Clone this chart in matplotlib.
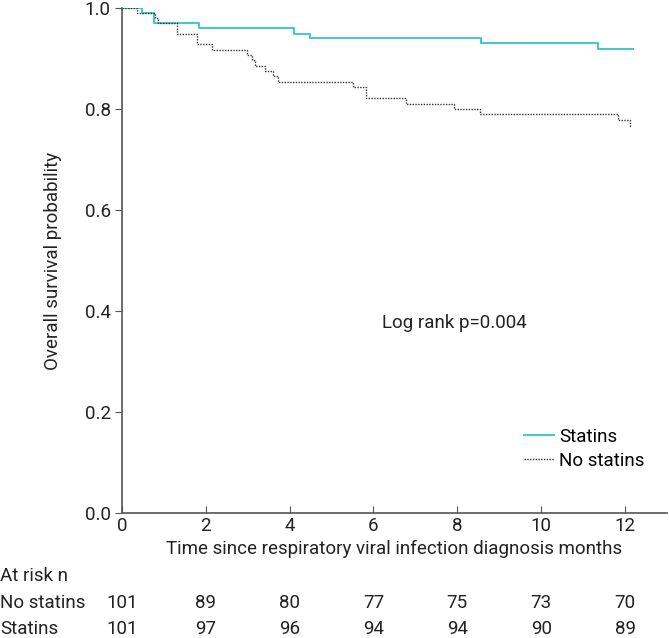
import matplotlib.pyplot as plt

# -----------------------------
# Data
# -----------------------------
statins_time = [0, 0.48, 0.78, 1.85, 4.11, 4.48, 8.57, 11.35, 12.20]
statins_surv = [1.0, 0.990, 0.970, 0.960, 0.950, 0.941, 0.931, 0.920, 0.920]

nostatins_time = [0, 0.37, 0.80, 0.87, 1.31, 1.80, 2.14, 2.98, 3.10, 3.17,
                  3.41, 3.60, 3.73, 5.52, 5.83, 6.77, 7.92, 8.53, 11.82,
                  12.12, 12.15]
nostatins_surv = [1.0, 0.990, 0.980, 0.970, 0.950, 0.929, 0.918, 0.908,
                  0.898, 0.886, 0.876, 0.865, 0.855, 0.844, 0.822, 0.810,
                  0.800, 0.790, 0.779, 0.767, 0.767]

risk_times = [0, 2, 4, 6, 8, 10, 12]
risk_nostatins = [101, 89, 80, 77, 75, 73, 70]
risk_statins = [101, 97, 96, 94, 94, 90, 89]

TEAL = "#3ec9cb"
GREY = "#333333"
AXIS = "#555555"
TEXT = "#222222"

plt.rcParams["font.family"] = ["Roboto", "DejaVu Sans"]
plt.rcParams["font.size"] = 13.5

fig = plt.figure(figsize=(6.69, 6.38), dpi=100)
AX_B, AX_H = 0.1955, 0.7915
ax = fig.add_axes([0.182, AX_B, 0.815, AX_H])

ax.step(statins_time, statins_surv, where="post", color=TEAL, lw=1.4,
        label="Statins")
ax.step(nostatins_time, nostatins_surv, where="post", color=GREY, lw=1.0,
        linestyle=(0, (1, 1)), label="No statins")

ax.set_xlim(0, 13)
ax.set_ylim(0, 1.0)
ax.set_xticks(risk_times)
ax.set_yticks([0.0, 0.2, 0.4, 0.6, 0.8, 1.0])
ax.set_yticklabels(["0.0", "0.2", "0.4", "0.6", "0.8", "1.0"])

for side in ["top", "right"]:
    ax.spines[side].set_visible(False)
for side in ["left", "bottom"]:
    ax.spines[side].set_color(AXIS)
    ax.spines[side].set_linewidth(1.2)

ax.tick_params(axis="x", direction="in", length=5, color=AXIS, pad=3,
               labelcolor=TEXT)
ax.tick_params(axis="y", direction="out", length=5, color=AXIS, pad=3,
               labelcolor=TEXT)

ax.set_xlabel("Time since respiratory viral infection diagnosis months",
              color=TEXT, labelpad=3)
ax.set_ylabel("Overall survival probability", color=TEXT, labelpad=16)

ax.text(7.93, 0.376, "Log rank p=0.004", color=TEXT, ha="center",
        va="center")

ax.legend(loc="lower right", bbox_to_anchor=(0.99, 0.053), frameon=False,
          handlelength=1.6, handletextpad=0.3, labelspacing=0.32)

# -----------------------------
# At-risk table
# -----------------------------
trans = ax.get_xaxis_transform()
fig.text(0.0, 1 - 576 / 638, "At risk n", color=TEXT, va="center")
fig.text(0.0, 1 - 603 / 638, "No statins", color=TEXT, va="center")
fig.text(0.0, 1 - 629 / 638, "Statins", color=TEXT, va="center")

y_ns = (1 - 603 / 638 - AX_B) / AX_H
y_s = (1 - 629 / 638 - AX_B) / AX_H
for t, n1, n2 in zip(risk_times, risk_nostatins, risk_statins):
    ax.text(t, y_ns, str(n1), transform=trans, ha="center", va="center",
            color=TEXT, clip_on=False)
    ax.text(t, y_s, str(n2), transform=trans, ha="center", va="center",
            color=TEXT, clip_on=False)

plt.savefig("out.png", dpi=100)
plt.close()
